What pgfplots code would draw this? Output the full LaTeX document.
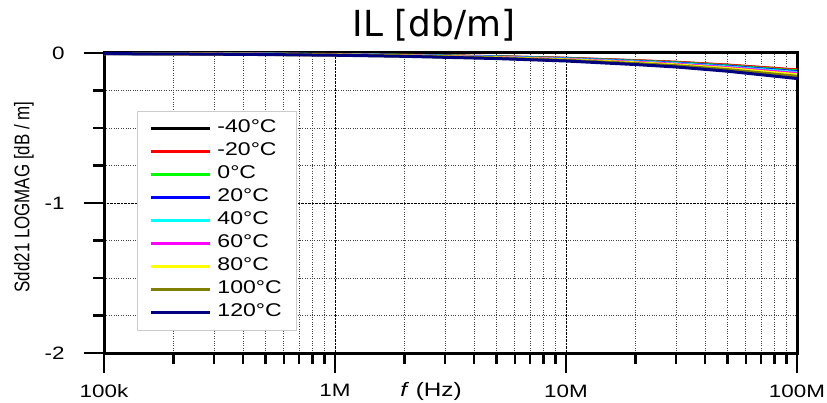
\documentclass[border=0pt]{standalone}
\usepackage{pgfplots}
\pgfplotsset{compat=1.18}
\usepackage{pgfplotstable}
\usepackage{fontspec}
\setmainfont{Liberation Sans}[FakeStretch=1.25]
\newfontfamily\plainfont{Liberation Sans}
\newfontfamily\titlefont{DejaVu Sans}
\definecolor{cK}{RGB}{0,0,0}
\definecolor{cR}{RGB}{255,0,0}
\definecolor{cG}{RGB}{0,255,0}
\definecolor{cB}{RGB}{0,0,255}
\definecolor{cC}{RGB}{0,255,255}
\definecolor{cM}{RGB}{255,0,255}
\definecolor{cY}{RGB}{255,255,0}
\definecolor{cO}{RGB}{128,128,0}
\definecolor{cN}{RGB}{0,0,128}
\pgfplotstableread{
f      tm40     tm20     t0       t20      t40      t60      t80      t100     t120
1e5   -0.0030  -0.0029  -0.0031  -0.0032  -0.0034  -0.0036  -0.0038  -0.0041  -0.0044
2e5   -0.0040  -0.0039  -0.0042  -0.0043  -0.0045  -0.0048  -0.0050  -0.0054  -0.0059
5e5   -0.0070  -0.0069  -0.0073  -0.0076  -0.0079  -0.0083  -0.0088  -0.0095  -0.0104
1e6   -0.0100  -0.0098  -0.0104  -0.0108  -0.0113  -0.0119  -0.0126  -0.0135  -0.0148
2e6   -0.0150  -0.0147  -0.0156  -0.0162  -0.0170  -0.0179  -0.0189  -0.0203  -0.0222
5e6   -0.0250  -0.0245  -0.0260  -0.0270  -0.0283  -0.0298  -0.0315  -0.0338  -0.0370
1e7   -0.0360  -0.0353  -0.0374  -0.0389  -0.0407  -0.0428  -0.0454  -0.0486  -0.0533
2e7   -0.0520  -0.0510  -0.0541  -0.0562  -0.0588  -0.0619  -0.0655  -0.0702  -0.0770
3e7   -0.0630  -0.0617  -0.0655  -0.0680  -0.0712  -0.0750  -0.0794  -0.0851  -0.0932
5e7   -0.0820  -0.0804  -0.0853  -0.0886  -0.0927  -0.0976  -0.1033  -0.1107  -0.1214
7e7   -0.0980  -0.0960  -0.1019  -0.1058  -0.1107  -0.1166  -0.1235  -0.1323  -0.1450
1e8   -0.1150  -0.1127  -0.1196  -0.1242  -0.1300  -0.1369  -0.1449  -0.1553  -0.1702
}\ILdata
\begin{document}
\begin{tikzpicture}
\path[use as bounding box] (-104bp,-50bp) rectangle (723bp,353bp);
\begin{axis}[
  at={(0,0)}, anchor=south west,
  width=693bp, height=300bp, scale only axis,
  xmode=log, xmin=1e5, xmax=1e8, ymin=-2, ymax=0,
  xtick={1e5,1e6,1e7,1e8}, xticklabels={100k,1M,10M,100M},
  minor xtick={2e5,3e5,4e5,5e5,6e5,7e5,8e5,9e5,2e6,3e6,4e6,5e6,6e6,7e6,8e6,9e6,2e7,3e7,4e7,5e7,6e7,7e7,8e7,9e7},
  ytick={-2,-1,0}, yticklabels={-2,-1,0},
  minor ytick={-1.75,-1.5,-1.25,-0.75,-0.5,-0.25},
  xtick pos=bottom, ytick pos=left,
  tick align=outside, major tick length=20bp, minor tick length=11bp,
  every tick/.style={black, line width=2.5bp},
  axis line style={line width=3bp},
  grid=both,
  major grid style={densely dotted, black, line width=0.8bp},
  minor grid style={dotted, black!75, line width=0.8bp},
  tick label style={font=\fontsize{18}{20}\selectfont},
  xticklabel style={yshift=-8bp},
  yticklabel style={anchor=east, xshift=-16bp},
  legend style={at={(0.048,0.808)}, anchor=north west, draw=black!20, fill=white,
    font=\fontsize{18.5}{21}\selectfont, inner xsep=12bp, inner ysep=6bp, row sep=0bp,
    nodes={inner ysep=0bp, text height=16bp, text depth=7bp},
    /tikz/every odd column/.append style={column sep=4bp}},
  legend cell align=left,
  legend image code/.code={\draw[#1] (0bp,0bp) -- (59bp,0bp);},
  every axis plot/.append style={line width=3bp},
  clip mode=individual,
]
\addplot[cK] table[x=f,y=tm40] {\ILdata}; \addlegendentry{-40°C}
\addplot[cR] table[x=f,y=tm20] {\ILdata}; \addlegendentry{-20°C}
\addplot[cG] table[x=f,y=t0]   {\ILdata}; \addlegendentry{0°C}
\addplot[cB] table[x=f,y=t20]  {\ILdata}; \addlegendentry{20°C}
\addplot[cC] table[x=f,y=t40]  {\ILdata}; \addlegendentry{40°C}
\addplot[cM] table[x=f,y=t60]  {\ILdata}; \addlegendentry{60°C}
\addplot[cY] table[x=f,y=t80]  {\ILdata}; \addlegendentry{80°C}
\addplot[cO] table[x=f,y=t100] {\ILdata}; \addlegendentry{100°C}
\addplot[cN] table[x=f,y=t120] {\ILdata}; \addlegendentry{120°C}
\end{axis}
\node[anchor=base, font=\titlefont\fontsize{36}{40}\selectfont] at (330bp,316bp) {IL [db/m]};
\node[anchor=base, font=\fontsize{19.5}{20}\selectfont] at (327bp,-43bp) {\textit{f} (Hz)};
\node[rotate=90, font=\plainfont\fontsize{17}{18}\selectfont] at (-80bp,156bp) {\scalebox{1}[1.25]{Sdd21 LOGMAG [dB / m]}};
\end{tikzpicture}
\end{document}
